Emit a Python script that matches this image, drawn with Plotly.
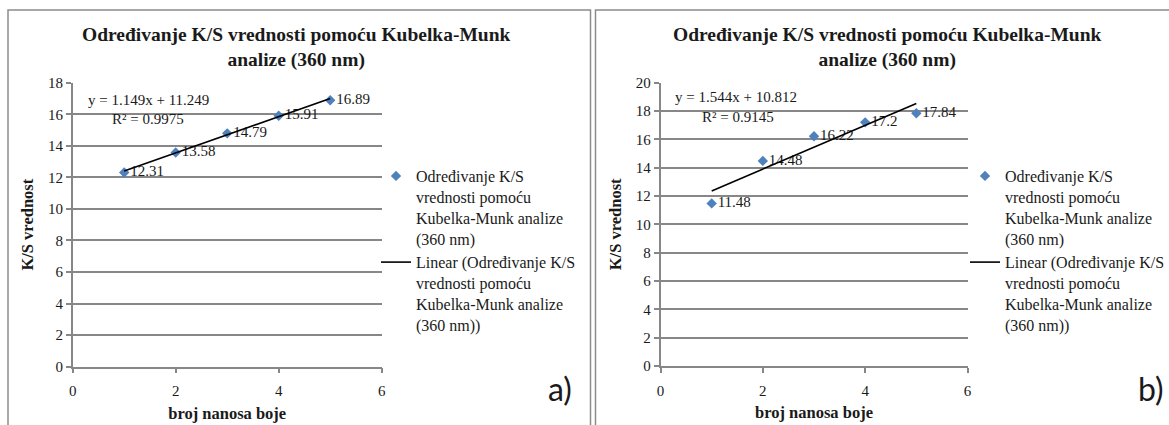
import plotly.graph_objects as go

# broj nanosa (coats) and K/S values for both panels
coats = [1, 2, 3, 4, 5]
ks_a = [12.31, 13.58, 14.79, 15.91, 16.89]
ks_b = [11.48, 14.48, 16.22, 17.2, 17.84]

# trendline parameters as printed on the chart
trend_a = {"slope": 1.149, "intercept": 11.249, "r2": "0.9975"}
trend_b = {"slope": 1.544, "intercept": 10.812, "r2": "0.9145"}

x_ticks = [0, 2, 4, 6]
y_ticks_a = list(range(0, 19, 2))
y_ticks_b = list(range(0, 21, 2))

W, H = 1169, 425
SERIF = "Liberation Serif"
GRID = "#878787"
BLUE = "#4F81BD"

series_name = "Određivanje K/S<br>vrednosti pomoću<br>Kubelka-Munk analize<br>(360 nm)"
trend_name = "Linear (Određivanje K/S<br>vrednosti pomoću<br>Kubelka-Munk analize<br>(360 nm))"
title_text = "<b>Određivanje K/S vrednosti pomoću Kubelka-Munk<br>analize (360 nm)</b>"


def px_x(v):
    return v / W


def px_y(v):
    return 1 - v / H


fig = go.Figure()

panels = [
    ("x", "y", "legend", ks_a, trend_a),
    ("x2", "y2", "legend2", ks_b, trend_b),
]

for xa, ya, leg, vals, tr in panels:
    fig.add_trace(go.Scatter(
        x=coats, y=vals, xaxis=xa, yaxis=ya, legend=leg, legendgroup="pts",
        mode="markers+text", name=series_name,
        marker=dict(symbol="diamond", size=8, color=BLUE),
        text=[f"{v:g}" for v in vals], textposition="middle right",
        textfont=dict(family=SERIF, size=15, color="#1a1a1a"),
    ))
    tx = [coats[0], coats[-1]]
    fig.add_trace(go.Scatter(
        x=tx, y=[tr["intercept"] + tr["slope"] * t for t in tx],
        xaxis=xa, yaxis=ya, legend=leg, legendgroup="trend",
        mode="lines", name=trend_name,
        line=dict(color="black", width=1.6),
    ))

axis_common = dict(
    showline=True, linecolor=GRID, linewidth=1.5,
    ticks="outside", ticklen=5, tickcolor=GRID, tickwidth=1.5,
    tickfont=dict(family=SERIF, size=15, color="#1a1a1a"),
    zeroline=False,
)
xtitle = dict(text="<b>broj nanosa boje</b>", font=dict(size=16.5), standoff=9)
ytitle = dict(text="<b>K/S vrednost</b>", font=dict(size=16.5), standoff=10)

legend_common = dict(
    xanchor="left", yanchor="top", valign="top",
    font=dict(family=SERIF, size=16, color="#1a1a1a"),
    itemwidth=30, tracegroupgap=0, bgcolor="rgba(0,0,0,0)",
)

fig.update_layout(
    width=W, height=H,
    margin=dict(l=0, r=0, t=0, b=0, autoexpand=False),
    paper_bgcolor="white", plot_bgcolor="white",
    font=dict(family=SERIF, color="#1a1a1a"),
    xaxis=dict(domain=[px_x(72.7), px_x(381.7)], range=[0, 6], tickvals=x_ticks,
               anchor="y", showgrid=False, ticklabelstandoff=5, title=xtitle,
               **axis_common),
    yaxis=dict(domain=[px_y(366.7), px_y(82.7)], range=[0, 18], tickvals=y_ticks_a,
               anchor="x", showgrid=True, gridcolor=GRID, gridwidth=1.5, title=ytitle,
               **axis_common),
    xaxis2=dict(domain=[px_x(660.5), px_x(967.5)], range=[0, 6], tickvals=x_ticks,
                anchor="y2", showgrid=False, ticklabelstandoff=5, title=xtitle,
                **axis_common),
    yaxis2=dict(domain=[px_y(366), px_y(82.7)], range=[0, 20], tickvals=y_ticks_b,
                anchor="x2", showgrid=True, gridcolor=GRID, gridwidth=1.5, title=ytitle,
                **axis_common),
    legend=dict(x=px_x(376), y=px_y(159), **legend_common),
    legend2=dict(x=px_x(965), y=px_y(159), **legend_common),
    showlegend=True,
)

# panel frames
for x0, x1 in [(8, 590.5), (595.5, 1180)]:
    fig.add_shape(type="rect", xref="paper", yref="paper",
                  x0=px_x(x0), x1=px_x(x1), y0=px_y(440), y1=px_y(10),
                  line=dict(color="#8c8c8c", width=1.5))

# chart titles
for cx in [296, 887]:
    fig.add_annotation(x=px_x(cx), y=px_y(47), xref="paper", yref="paper",
                       xanchor="center", yanchor="middle",
                       text=title_text, showarrow=False,
                       font=dict(family=SERIF, size=19.5, color="#1a1a1a"))

# trendline equations
for (xa, ya, tr, ex, ey, rx, ry) in [
    ("x", "y", trend_a, 0.25, 16.92, 0.73, 15.72),
    ("x2", "y2", trend_b, 0.25, 19.0, 0.77, 17.6),
]:
    fig.add_annotation(x=ex, y=ey, xref=xa, yref=ya, xanchor="left",
                       text=f"y = {tr['slope']:.3f}x + {tr['intercept']:.3f}",
                       showarrow=False, font=dict(family=SERIF, size=15, color="#1a1a1a"))
    fig.add_annotation(x=rx, y=ry, xref=xa, yref=ya, xanchor="left",
                       text=f"R² = {tr['r2']}",
                       showarrow=False, font=dict(family=SERIF, size=15, color="#1a1a1a"))

# panel letters
for lbl, cx in [("a)", 560), ("b)", 1151)]:
    fig.add_annotation(x=px_x(cx), y=px_y(388), xref="paper", yref="paper",
                       xanchor="center", yanchor="middle",
                       text=lbl, showarrow=False,
                       font=dict(family="Lato", size=32, color="#1a1a1a"))

fig.write_html("out.html", config={"displayModeBar": False},
               post_script="document.body.style.margin='0';")
